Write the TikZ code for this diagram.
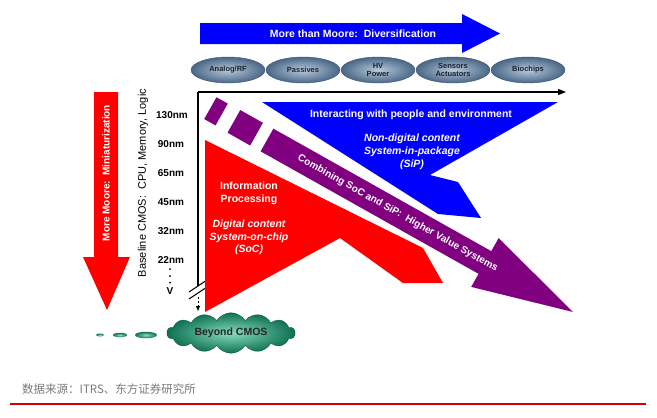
\documentclass[tikz,border=0pt]{standalone}
\usepackage{fontspec}
\setmainfont{Liberation Sans}
\newfontfamily\cjkfont{Noto Sans CJK SC}
\usetikzlibrary{shapes.symbols,shapes.geometric,arrows.meta}
\definecolor{mblue}{HTML}{0000FF}
\definecolor{mred}{HTML}{FF0000}
\definecolor{mpurple}{HTML}{800080}
\definecolor{techin}{HTML}{B8C9DA}
\definecolor{techout}{HTML}{4A6786}
\definecolor{techedge}{HTML}{3E5672}
\definecolor{techtxt}{HTML}{1B2433}
\definecolor{cloudin}{HTML}{86DDBE}
\definecolor{cloudout}{HTML}{0E7052}
\definecolor{cloudedge}{HTML}{0B5A42}
\definecolor{srcgray}{HTML}{7A7A7A}
\definecolor{ruled}{HTML}{D40000}
\begin{document}
\begin{tikzpicture}[x=1pt,y=-1pt,
  tech/.style={ellipse, minimum width=74pt, minimum height=26pt, inner sep=0pt,
    inner color=techin, outer color=techout, draw=techedge, line width=0.4pt,
    font=\fontsize{7.5}{8.5}\selectfont\bfseries, text=techtxt, align=center},
  wtxt/.style={text=white, font=\fontsize{10.5}{12.5}\selectfont\bfseries, align=center, inner sep=0pt},
  witxt/.style={text=white, font=\fontsize{10.5}{12.5}\selectfont\bfseries\itshape, align=center, inner sep=0pt},
  nmtxt/.style={font=\fontsize{10}{12}\selectfont\bfseries, inner sep=0pt},
  axisline/.style={line width=1.3pt, black},
  blob/.style={ellipse, inner sep=0pt, inner color=cloudin, outer color=cloudout}
]
\useasboundingbox (0,0) rectangle (657,418);

% top arrow
\fill[mblue] (200,23) -- (462,23) -- (462,14) -- (500,33.5) -- (462,53) -- (462,44) -- (200,44) -- cycle;
\node[wtxt] (mtm) at (353,33.5) {More than Moore:\ \ Diversification};

% technology ellipses
\node[tech] (analog) at (228,70) {Analog/RF};
\node[tech] (passives) at (303,70) {Passives};
\node[tech] (hv) at (378,70) {HV\\Power};
\node[tech] (sensors) at (453,70) {Sensors\\Actuators};
\node[tech] (bio) at (528,70) {Biochips};

% axes
\coordinate (O) at (198,92);
\coordinate (xend) at (566,92);
\coordinate (ybreak) at (198,286);
\coordinate (ydash) at (198,297);
\coordinate (yend) at (198,311);
\draw[axisline, -{Triangle[length=8pt,width=6pt]}] (O) -- (xend);
\draw[axisline] (O) -- (ybreak);
\draw[line width=1pt] (189,292) -- (207,280);
\draw[line width=1pt] (189,299) -- (207,287);
\draw[line width=1pt, dashed, dash pattern=on 2pt off 2pt, -{Triangle[length=5pt,width=4pt]}] (ydash) -- (yend);

% blue interacting arrow
\fill[mblue] (262,102) -- (558,102) -- (430,175) -- (458,182) -- (481,218) -- (438,214) -- cycle;
\node[wtxt] (inter) at (411,115) {Interacting with people and environment};
\node[witxt, font=\fontsize{10.5}{12.8}\selectfont\bfseries\itshape] (sip) at (412,152) {Non-digital content\\System-in-package\\(SiP)};

% purple arrow
\begin{scope}[shift={(267,140)}, rotate=-29.34]
  \fill[mpurple] (-65,-12.5) rectangle (-52,12.5);
  \fill[mpurple] (-38,-13) rectangle (-12,13);
  \fill[mpurple] (0,-13) -- (250,-13) -- (250,-28) -- (351,0) -- (250,28) -- (250,13) -- (0,13) -- cycle;
  \node[wtxt, font=\fontsize{10}{12}\selectfont\bfseries, rotate=-29.34] (comb) at (150,0) {Combining SoC and SiP:\ \ Higher Value Systems};
\end{scope}

% red information arrow
\fill[mred] (205,140) -- (423,248) -- (443,283) -- (403,283) -- (340,238) -- (205,312) -- cycle;
\node[wtxt] (info) at (249,193.5) {Information\\Processing};
\node[witxt] (soc) at (249,237.5) {Digital content\\System-on-chip\\(SoC)};

% left red arrow
\fill[mred] (94,92) -- (118,92) -- (118,257) -- (130,257) -- (107,310) -- (83,257) -- (94,257) -- cycle;
\node[wtxt, font=\fontsize{10}{12}\selectfont\bfseries, rotate=90] (mm) at (106,173) {More Moore:\ \ Miniaturization};

% baseline text
\node[font=\fontsize{11}{13}\selectfont, rotate=90, inner sep=0pt] (base) at (143,183) {Baseline CMOS:\ \ CPU, Memory, Logic};
\node[nmtxt] (n130) at (172,115) {130nm};
\node[nmtxt] (n90) at (171,144) {90nm};
\node[nmtxt] (n65) at (171,173) {65nm};
\node[nmtxt] (n45) at (171,202) {45nm};
\node[nmtxt] (n32) at (171,231) {32nm};
\node[nmtxt] (n22) at (171,260) {22nm};
\fill (170,269) circle (1pt);
\fill (170,276) circle (1pt);
\fill (170,282.5) circle (1pt);
\node[nmtxt] (vv) at (170,291) {V};

% beyond CMOS
\node[blob, minimum width=8pt, minimum height=3pt] (b1) at (100,335) {};
\node[blob, minimum width=14pt, minimum height=4.5pt] (b2) at (120,335) {};
\node[blob, minimum width=22pt, minimum height=6.5pt] (b3) at (146,335) {};
\node[cloud, cloud puffs=14, cloud puff arc=115, aspect=3.6, minimum width=128pt, minimum height=34pt,
  inner sep=0pt, inner color=cloudin, outer color=cloudout, draw=cloudedge, line width=0.4pt,
  font=\fontsize{10.5}{12}\selectfont\bfseries, text=black!85] (beyond) at (231,333) {Beyond CMOS};

% source and rule
\node[anchor=west, text=srcgray, font=\cjkfont\fontsize{11.5}{13}\selectfont, inner sep=0pt] (src) at (22,389) {数据来源：ITRS、东方证券研究所};
\coordinate (r1) at (10,404);
\coordinate (r2) at (646,404);
\draw[ruled, line width=1.2pt] (r1) -- (r2);
\end{tikzpicture}
\end{document}
